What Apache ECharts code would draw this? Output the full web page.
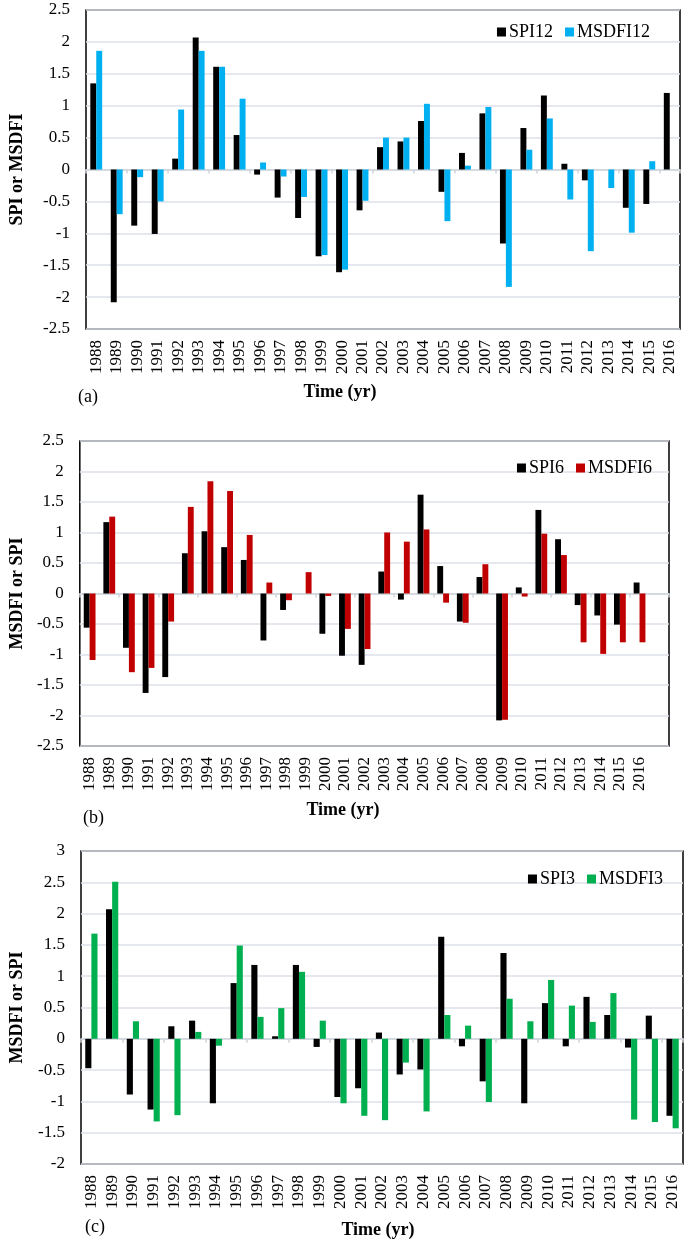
<!DOCTYPE html>
<html><head><meta charset="utf-8">
<script src="https://cdn.jsdelivr.net/npm/echarts@6/dist/echarts.min.js"></script>
<style>html,body{margin:0;background:#fff}#c{width:685px;height:1242px}</style>
</head><body><div id="c"></div>
<script>
(() => {
  "use strict";
  const years = ["1988","1989","1990","1991","1992","1993","1994","1995","1996","1997","1998","1999","2000","2001","2002","2003","2004","2005","2006","2007","2008","2009","2010","2011","2012","2013","2014","2015","2016"];
  const yearsB = years.concat([""]); // panel (b) has one empty slot on the right
  const spi12   = [1.35,-2.08,-0.88,-1.01,0.17,2.07,1.61,0.54,-0.08,-0.44,-0.76,-1.36,-1.61,-0.64,0.35,0.44,0.76,-0.35,0.26,0.88,-1.16,0.65,1.16,0.09,-0.17,0,-0.60,-0.54,1.20];
  const msdfi12 = [1.86,-0.70,-0.12,-0.50,0.94,1.86,1.61,1.11,0.11,-0.11,-0.43,-1.34,-1.57,-0.49,0.50,0.50,1.03,-0.81,0.06,0.98,-1.84,0.31,0.80,-0.47,-1.28,-0.29,-0.99,0.13,0];
  const spi6    = [-0.56,1.17,-0.89,-1.63,-1.37,0.66,1.02,0.76,0.55,-0.77,-0.27,0,-0.66,-1.02,-1.17,0.36,-0.10,1.62,0.45,-0.46,0.27,-2.08,0.10,1.37,0.89,-0.19,-0.36,-0.51,0.18];
  const msdfi6  = [-1.09,1.26,-1.29,-1.22,-0.46,1.42,1.84,1.68,0.96,0.18,-0.11,0.35,-0.04,-0.58,-0.91,1.00,0.85,1.05,-0.15,-0.48,0.48,-2.07,-0.05,0.98,0.63,-0.80,-0.99,-0.80,-0.80];
  const spi3    = [-0.47,2.07,-0.89,-1.13,0.20,0.29,-1.03,0.89,1.18,0.04,1.18,-0.13,-0.93,-0.79,0.10,-0.57,-0.49,1.63,-0.12,-0.68,1.37,-1.03,0.57,-0.12,0.67,0.38,-0.14,0.37,-1.23];
  const msdfi3  = [1.68,2.51,0.28,-1.32,-1.22,0.11,-0.11,1.49,0.35,0.49,1.07,0.29,-1.03,-1.23,-1.30,-0.38,-1.16,0.38,0.21,-1.01,0.64,0.28,0.94,0.53,0.27,0.73,-1.29,-1.33,-1.43];

  const SERIF = "'Liberation Serif','Times New Roman',serif";
  const panels = [
    { grid: { left: 80, top: 10, width: 600, height: 319 }, cats: years, min: -2.5, max: 2.5, yname: "SPI or MSDFI", gap: 60,
      s: [["SPI12", spi12, "#000000"], ["MSDFI12", msdfi12, "#00b0f0"]], legend: { right: 35, top: 23 }, bcg: "42%",
      time: [340, 392], tag: ["(a)", 78, 397] },
    { grid: { left: 70, top: 441, width: 599, height: 305 }, cats: yearsB, min: -2.5, max: 2.5, yname: "MSDFI or SPI", gap: 53,
      s: [["SPI6", spi6, "#000000"], ["MSDFI6", msdfi6, "#c00000"]], legend: { right: 33, top: 459 }, bcg: "40%",
      time: [343, 810], tag: ["(b)", 83, 818] },
    { grid: { left: 74, top: 851, width: 609, height: 313 }, cats: years, min: -2, max: 3, yname: "MSDFI or SPI", gap: 55,
      s: [["SPI3", spi3, "#000000"], ["MSDFI3", msdfi3, "#00b050"]], legend: { right: 22, top: 870 }, bcg: "41%",
      time: [378, 1230], tag: ["(c)", 85, 1227] },
  ];

  const opt = { animation: false, grid: [], xAxis: [], yAxis: [], series: [], legend: [], graphic: [] };
  panels.forEach((p, i) => {
    opt.grid.push(Object.assign({ show: true, borderColor: "#000", borderWidth: 1.5, backgroundColor: "transparent" }, p.grid));
    // labels along the bottom
    opt.xAxis.push({ type: "category", gridIndex: i, position: "bottom", data: p.cats,
      axisLine: { show: false, onZero: false }, axisTick: { show: false },
      axisLabel: { rotate: 90, interval: 0, margin: 11, color: "#000", fontFamily: SERIF, fontSize: 17 } });
    // zero line with ticks
    opt.xAxis.push({ type: "category", gridIndex: i, position: "top", data: p.cats,
      axisLine: { show: true, onZero: true, lineStyle: { color: "#d0d4dc", width: 1.5 } },
      axisTick: { show: true, inside: true, length: 4, lineStyle: { color: "#d0d4dc", width: 1.5 } },
      axisLabel: { show: false } });
    opt.yAxis.push({ type: "value", gridIndex: i, min: p.min, max: p.max, interval: 0.5,
      name: p.yname, nameLocation: "middle", nameGap: p.gap,
      nameTextStyle: { fontFamily: SERIF, fontSize: 18, fontWeight: "bold", color: "#000" },
      axisLine: { show: false }, axisTick: { show: false },
      axisLabel: { margin: 16, color: "#000", fontFamily: SERIF, fontSize: 17 },
      splitLine: { lineStyle: { color: "#dde1e8", width: 1.5 } } });
    p.s.forEach(([name, data, color]) => {
      opt.series.push({ type: "bar", name, data, xAxisIndex: i * 2, yAxisIndex: i,
        barGap: "0%", barCategoryGap: p.bcg, itemStyle: { color } });
    });
    opt.legend.push(Object.assign({ data: p.s.map(s => s[0]), icon: "rect", itemWidth: 9, itemHeight: 9,
      itemGap: 12, padding: 0, textStyle: { fontFamily: SERIF, fontSize: 18, color: "#000", padding: [0, 0, 0, -2] } }, p.legend));
    opt.graphic.push({ type: "text", x: p.time[0], y: p.time[1],
      style: { text: "Time (yr)", font: "bold 18px " + SERIF, fill: "#000", align: "center", verticalAlign: "middle" } });
    opt.graphic.push({ type: "text", x: p.tag[1], y: p.tag[2],
      style: { text: p.tag[0], font: "18px " + SERIF, fill: "#000", align: "left", verticalAlign: "middle" } });
  });

  const chart = echarts.init(document.getElementById("c"));
  chart.setOption(opt);
})();
</script></body></html>
